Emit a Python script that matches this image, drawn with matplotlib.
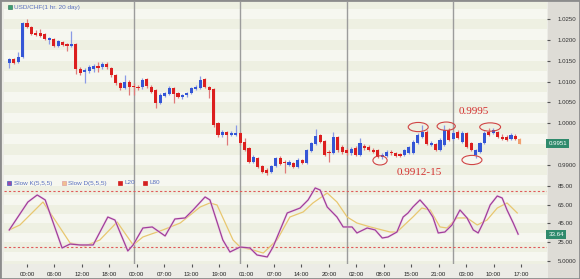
import numpy as np
import matplotlib
matplotlib.use("Agg")
import matplotlib.pyplot as plt
from matplotlib.patches import Ellipse, Rectangle
from matplotlib.transforms import blended_transform_factory

# ---------------- data ----------------
title = "USD/CHF(1 hr. 20 day)"
hours = list(range(-4, 112))
opens = [1.0145, 1.0154, 1.0147, 1.0159, 1.0240, 1.0231, 1.0216, 1.0216, 1.0214, 1.0200,
         1.0202, 1.0185, 1.0195, 1.0190, 1.0185, 1.0190, 1.0130, 1.0123, 1.0125, 1.0130,
         1.0137, 1.0135, 1.0142, 1.0133, 1.0116, 1.0097, 1.0085, 1.0099, 1.0089, 1.0087,
         1.0087, 1.0106, 1.0087, 1.0080, 1.0049, 1.0065, 1.0070, 1.0085, 1.0073, 1.0063,
         1.0068, 1.0073, 1.0082, 1.0085, 1.0106, 1.0087, 1.0082, 1.0001, 0.9972, 0.9979,
         0.9972, 0.9972, 0.9977, 0.9955, 0.9941, 0.9907, 0.9917, 0.9898, 0.9889, 0.9883,
         0.9898, 0.9917, 0.9907, 0.9900, 0.9905, 0.9895, 0.9912, 0.9905, 0.9934, 0.9950,
         0.9972, 0.9958, 0.9931, 0.9929, 0.9967, 0.9943, 0.9936, 0.9929, 0.9941, 0.9924,
         0.9946, 0.9943, 0.9936, 0.9936, 0.9919, 0.9922, 0.9931, 0.9929, 0.9926, 0.9924,
         0.9929, 0.9929, 0.9953, 0.9967, 0.9979, 0.9948, 0.9950, 0.9936, 0.9948, 0.9984,
         0.9962, 0.9979, 0.9955, 0.9977, 0.9953, 0.9924, 0.9931, 0.9953, 0.9979, 0.9977,
         0.9979, 0.9967, 0.9967, 0.9962, 0.9970, 0.9962]
highs = [1.0157, 1.0157, 1.0171, 1.0243, 1.0250, 1.0233, 1.0224, 1.0226, 1.0216, 1.0207,
         1.0204, 1.0200, 1.0197, 1.0192, 1.0221, 1.0192, 1.0135, 1.0133, 1.0140, 1.0142,
         1.0147, 1.0147, 1.0147, 1.0135, 1.0118, 1.0099, 1.0116, 1.0104, 1.0097, 1.0092,
         1.0109, 1.0109, 1.0092, 1.0082, 1.0073, 1.0075, 1.0089, 1.0087, 1.0075, 1.0070,
         1.0075, 1.0087, 1.0092, 1.0113, 1.0109, 1.0089, 1.0085, 1.0003, 0.9984, 0.9982,
         0.9982, 0.9996, 0.9979, 0.9965, 0.9943, 0.9924, 0.9919, 0.9900, 0.9893, 0.9900,
         0.9919, 0.9922, 0.9912, 0.9912, 0.9907, 0.9917, 0.9914, 0.9938, 0.9955, 0.9986,
         0.9974, 0.9960, 0.9936, 0.9979, 0.9970, 0.9948, 0.9941, 0.9943, 0.9946, 0.9965,
         0.9950, 0.9948, 0.9941, 0.9938, 0.9929, 0.9936, 0.9936, 0.9931, 0.9929, 0.9938,
         0.9946, 0.9960, 0.9977, 0.9996, 0.9984, 0.9958, 0.9953, 0.9965, 0.9996, 0.9989,
         0.9982, 0.9984, 0.9982, 0.9979, 0.9955, 0.9938, 0.9955, 0.9982, 0.9989, 0.9989,
         0.9982, 0.9974, 0.9972, 0.9977, 0.9974, 0.9965]
lows = [1.0133, 1.0142, 1.0145, 1.0157, 1.0228, 1.0212, 1.0209, 1.0207, 1.0200, 1.0190,
        1.0183, 1.0183, 1.0185, 1.0173, 1.0183, 1.0118, 1.0116, 1.0097, 1.0121, 1.0123,
        1.0123, 1.0130, 1.0130, 1.0111, 1.0092, 1.0080, 1.0082, 1.0068, 1.0068, 1.0080,
        1.0082, 1.0085, 1.0073, 1.0037, 1.0046, 1.0063, 1.0068, 1.0049, 1.0061, 1.0058,
        1.0063, 1.0070, 1.0080, 1.0082, 1.0085, 1.0061, 0.9991, 0.9967, 0.9967, 0.9948,
        0.9970, 0.9970, 0.9948, 0.9934, 0.9905, 0.9905, 0.9893, 0.9881, 0.9876, 0.9881,
        0.9895, 0.9900, 0.9881, 0.9898, 0.9893, 0.9893, 0.9902, 0.9902, 0.9931, 0.9948,
        0.9953, 0.9922, 0.9907, 0.9926, 0.9931, 0.9926, 0.9924, 0.9924, 0.9922, 0.9922,
        0.9936, 0.9934, 0.9929, 0.9917, 0.9914, 0.9919, 0.9924, 0.9919, 0.9919, 0.9922,
        0.9926, 0.9926, 0.9950, 0.9965, 0.9948, 0.9946, 0.9934, 0.9934, 0.9946, 0.9958,
        0.9960, 0.9962, 0.9953, 0.9941, 0.9934, 0.9917, 0.9929, 0.9950, 0.9970, 0.9974,
        0.9965, 0.9960, 0.9958, 0.9960, 0.9960, 0.9950]
closes = [1.0154, 1.0145, 1.0159, 1.0240, 1.0231, 1.0214, 1.0212, 1.0209, 1.0202, 1.0204,
          1.0185, 1.0197, 1.0188, 1.0185, 1.0190, 1.0130, 1.0121, 1.0128, 1.0135, 1.0137,
          1.0133, 1.0142, 1.0135, 1.0116, 1.0097, 1.0085, 1.0099, 1.0087, 1.0087, 1.0085,
          1.0104, 1.0089, 1.0075, 1.0049, 1.0068, 1.0073, 1.0085, 1.0070, 1.0063, 1.0068,
          1.0073, 1.0085, 1.0087, 1.0104, 1.0087, 1.0080, 0.9996, 0.9972, 0.9979, 0.9972,
          0.9977, 0.9977, 0.9953, 0.9936, 0.9907, 0.9919, 0.9895, 0.9883, 0.9881, 0.9898,
          0.9917, 0.9902, 0.9905, 0.9907, 0.9895, 0.9912, 0.9905, 0.9936, 0.9953, 0.9970,
          0.9955, 0.9924, 0.9929, 0.9967, 0.9936, 0.9931, 0.9929, 0.9938, 0.9924, 0.9953,
          0.9941, 0.9936, 0.9931, 0.9919, 0.9924, 0.9931, 0.9929, 0.9922, 0.9922, 0.9936,
          0.9943, 0.9955, 0.9972, 0.9979, 0.9950, 0.9953, 0.9936, 0.9960, 0.9984, 0.9960,
          0.9977, 0.9965, 0.9977, 0.9943, 0.9936, 0.9936, 0.9953, 0.9977, 0.9972, 0.9984,
          0.9967, 0.9962, 0.9960, 0.9972, 0.9962, 0.9951]

k_hours = [-4.0, 0.2, 2.3, 4.1, 7.9, 9.7, 11.9, 14.9, 18.2, 19.8, 22.7, 23.9, 26.1, 28.2,
           31.1, 33.3, 35.6, 37.4, 40.1, 41.2, 44.1, 45.7, 48.0, 50.2, 51.8, 54.1, 55.4,
           57.0, 58.6, 61.5, 63.3, 64.9, 66.0, 67.6, 69.8, 71.2, 73.2, 74.3, 76.6, 78.4,
           80.0, 81.3, 83.3, 84.7, 85.8, 86.9, 88.5, 90.1, 91.4, 92.6, 94.1, 95.7, 97.5,
           99.1, 100.5, 101.6, 102.7, 104.3, 105.9, 107.0, 108.1, 109.5, 110.6]
k_vals = [38.1, 67.9, 75.4, 70.1, 18.9, 23.1, 22.1, 22.1, 51.9, 48.7, 15.7, 22.1, 40.2, 41.3,
          31.7, 49.8, 50.9, 59.4, 73.3, 70.1, 27.4, 14.6, 19.9, 18.9, 11.4, 9.3, 19.9,
          38.1, 56.2, 61.5, 70.1, 82.9, 80.7, 62.6, 51.9, 41.3, 41.3, 34.9, 40.2, 38.1,
          29.5, 30.6, 35.9, 51.9, 56.2, 62.6, 70.1, 61.5, 51.9, 34.9, 35.9, 43.4, 59.4,
          50.9, 38.1, 34.9, 45.5, 64.7, 74.3, 72.2, 59.4, 45.5, 33.64]
d_hours = [-4.0, -1.6, 3.6, 6.3, 9.7, 13.1, 16.4, 20.3, 23.9, 26.1, 30.6, 34.5, 39.0, 41.2,
           42.8, 46.4, 48.0, 50.9, 53.2, 56.3, 59.2, 62.2, 64.4, 67.6, 69.8, 72.1, 74.3,
           77.3, 81.8, 83.3, 86.9, 88.9, 90.8, 93.0, 94.6, 96.8, 99.1, 101.4, 103.6, 105.9,
           108.1, 110.4]
d_vals = [38.1, 43.4, 67.9, 48.7, 24.2, 21.0, 27.4, 46.6, 22.1, 30.6, 38.1, 45.5, 62.6, 66.9,
          64.7, 27.4, 19.9, 16.7, 13.5, 27.4, 51.9, 57.3, 66.9, 77.5, 67.9, 51.9, 45.5,
          41.3, 35.9, 35.9, 51.9, 61.5, 59.4, 41.3, 40.2, 50.9, 50.9, 43.4, 48.7, 61.5,
          66.9, 56.2]

day_breaks = [24, 48, 72, 96]
xtick_labels = ["00:00", "06:00", "12:00", "18:00", "00:00", "07:00", "13:00", "19:00",
                "01:00", "07:00", "14:00", "20:00", "02:00", "08:00", "15:00", "21:00",
                "03:00", "10:00", "17:00"]
price_ticks = [1.0250, 1.0200, 1.0150, 1.0100, 1.0050, 1.0000, 0.9900]
stoch_ticks = [85, 65, 45, 25, 5]
stoch_tick_labels = ["85.00", "65.00", "45.00", "25.00", "5.0000"]
last_price = 0.9951
last_k = 33.64
levels = [20, 80]
legend_items = ["Slow K(5,5,5)", "Slow D(5,5,5)", "L20", "L80"]

# annotation shapes (hour, price, width hours, height price)
ellipses = [(88.1, 0.9991, 4.5, 0.0022), (94.4, 0.9993, 4.1, 0.0020),
            (104.3, 0.9991, 4.7, 0.0020), (79.5, 0.9911, 3.2, 0.0022),
            (100.2, 0.9912, 4.5, 0.0022)]
notes = [("0.9995", 100.7, 1.0029), ("0.9912-15", 88.3, 0.9881)]

# ---------------- styling ----------------
plt.rcParams['font.family'] = ['Liberation Sans', 'DejaVu Sans']
BLUE = '#3456d6'
RED = '#dc1f1f'
BLUE_W = '#8a9ae6'
RED_W = '#e07a7a'
BG1 = '#f6f7f0'
BG2 = '#eef0e2'

fig = plt.figure(figsize=(5.8, 2.79), dpi=100, facecolor='#ecece6')
W, H = 580.0, 279.0
x0, x1 = 4, 547
ax = fig.add_axes([x0 / W, (H - 178) / H, (x1 - x0) / W, 176 / H])
ax2 = fig.add_axes([x0 / W, (H - 264) / H, (x1 - x0) / W, 86 / H])

# right grey column (behind everything)
fig.patches.append(Rectangle((548 / W, 0), 32 / W, 1, transform=fig.transFigure,
                             facecolor='#dedcd6', edgecolor='none', zorder=-5))

xlim = (-5.18, 117.1)
for a in (ax, ax2):
    a.set_xlim(*xlim)
    a.set_facecolor(BG1)
    for s in a.spines.values():
        s.set_visible(False)
    for d in day_breaks:
        a.axvline(d, color='#9c9c9c', lw=1.0, zorder=1)

ax.set_ylim(0.98688, 1.02908)
ax2.set_ylim(1.8, 93.5)

# bands
for lo in np.arange(0.9850, 1.0300, 0.0025):
    if round((1.0250 - lo) / 0.0025) % 2 == 1:
        ax.axhspan(lo, lo + 0.0025, color=BG2, lw=0, zorder=0)
for lo in np.arange(-5, 100, 10):
    if int(round((lo + 5) / 10)) % 2 == 0:
        ax2.axhspan(lo, lo + 10, color=BG2, lw=0, zorder=0)

# candles
hrs = np.array(hours)
o = np.array(opens); h = np.array(highs); l = np.array(lows); c = np.array(closes)
up = c >= o
body_col = np.where(up, BLUE, RED).tolist()
wick_col = np.where(up, BLUE_W, RED_W).tolist()
body_col[-1] = '#f0a070'
wick_col[-1] = '#f0b890'
ax.vlines(hrs, l, h, colors=wick_col, lw=0.9, zorder=2)
bottoms = np.minimum(o, c)
heights = np.maximum(np.abs(c - o), 0.00012)
ax.bar(hrs, heights, bottom=bottoms, width=0.7, color=body_col, lw=0, zorder=3)

# annotations
for (ex, ey, ew, eh) in ellipses:
    ax.add_patch(Ellipse((ex, ey), ew, eh, fill=False, edgecolor='#d04545', lw=0.8, zorder=4))
for txt, tx, ty in notes:
    ax.text(tx, ty, txt, color='#d43030', fontsize=8, ha='center', va='center',
            family=['Liberation Serif', 'DejaVu Serif'], zorder=5)

# title
ax.plot([(10 - x0) / (x1 - x0)], [(178 - 7) / 176], marker='s', ms=3.4, color='#3aa070',
        mec='#2a6a50', mew=0.4, transform=ax.transAxes, clip_on=False)
ax.text((14 - x0) / (x1 - x0), (178 - 7) / 176, title, transform=ax.transAxes,
        fontsize=4.6, color='#5a70c0', va='center', ha='left')

# price axis
ax.yaxis.tick_right()
ax.set_yticks(price_ticks)
ax.set_yticklabels([f"{v:.4f}" for v in price_ticks])
ax.tick_params(axis='y', length=2.5, width=0.8, color='#555555', pad=5,
               labelsize=4.4, labelcolor='#333333')
ax.set_xticks([])

bt = blended_transform_factory(ax.transAxes, ax.transData)
ax.text(1.003, last_price, f"{last_price:.4f}", transform=bt, ha='left', va='center',
        fontsize=4.4, color='white', zorder=8,
        bbox=dict(boxstyle='square,pad=0.35', facecolor='#2f8a6c', edgecolor='none'))

# stochastic
ax2.plot(d_hours, d_vals, color='#e8c770', lw=0.9, zorder=3)
ax2.plot(k_hours, k_vals, color='#f0c8e8', lw=1.8, zorder=3, alpha=0.6)
ax2.plot(k_hours, k_vals, color='#a0409a', lw=0.9, zorder=4)
for lv in levels:
    ax2.axhline(lv, color='#e05a5a', lw=0.8, ls=(0, (2, 2)), zorder=2)

ax2.yaxis.tick_right()
ax2.set_yticks(stoch_ticks)
ax2.set_yticklabels(stoch_tick_labels)
ax2.tick_params(axis='y', length=2.5, width=0.8, color='#555555', pad=5,
                labelsize=4.4, labelcolor='#333333')
bt2 = blended_transform_factory(ax2.transAxes, ax2.transData)
ax2.text(1.003, last_k, f"{last_k:.2f}", transform=bt2, ha='left', va='center',
         fontsize=4.4, color='white', zorder=8,
         bbox=dict(boxstyle='square,pad=0.35', facecolor='#2f8a6c', edgecolor='none'))

xt = np.arange(len(xtick_labels)) * 6.18
ax2.set_xticks(xt)
ax2.set_xticklabels(xtick_labels)
ax2.tick_params(axis='x', length=2.5, width=0.8, color='#555555', pad=3,
                labelsize=4.4, labelcolor='#222222')

# stoch legend
leg_y = (264 - 183) / 86
icon_cols = [('#9a4aa8', '#4060c0'), ('#f0c090', '#e0a0a0'), ('#d42020', '#d42020'), ('#d42020', '#d42020')]
icon_px = [9, 64, 120, 145]
for (fc, ec), px, lab in zip(icon_cols, icon_px, legend_items):
    ax2.plot([(px - x0) / (x1 - x0)], [leg_y], marker='s', ms=3.2, color=fc, mec=ec, mew=0.5,
             transform=ax2.transAxes, clip_on=False, zorder=6)
    ax2.text((px + 4.5 - x0) / (x1 - x0), leg_y, lab, transform=ax2.transAxes,
             fontsize=4.6, color='#5a70c0', va='center', ha='left', zorder=6)

# figure border
fig.patches.append(Rectangle((0, 0), 1, 1, transform=fig.transFigure, fill=False,
                             edgecolor='#8c8c8c', lw=2.0, zorder=10))

fig.savefig("out.png", dpi=100, facecolor=fig.get_facecolor())
